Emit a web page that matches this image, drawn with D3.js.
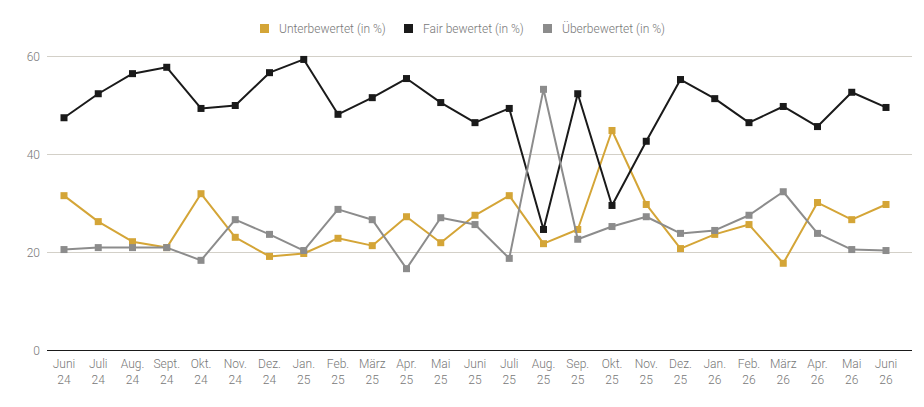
<!DOCTYPE html>
<html><head><meta charset="utf-8">
<script src="https://cdn.jsdelivr.net/npm/d3@7"></script>
<style>
body{margin:0;background:#fff;font-family:Roboto,"Noto Sans",sans-serif;}
</style></head>
<body><svg id="c" width="924" height="407"></svg>
<script>
const months = ["Juni","Juli","Aug.","Sept.","Okt.","Nov.","Dez.","Jan.","Feb.","März","Apr.","Mai","Juni","Juli","Aug.","Sep.","Okt.","Nov.","Dez.","Jan.","Feb.","März","Apr.","Mai","Juni"];
const years = ["24","24","24","24","24","24","24","25","25","25","25","25","25","25","25","25","25","25","25","26","26","26","26","26","26"];
const unterbewertet = [31.6,26.3,22.2,21.0,32.0,23.1,19.2,19.8,22.9,21.4,27.3,22.0,27.6,31.6,21.8,24.7,44.9,29.8,20.8,23.7,25.7,17.8,30.2,26.7,29.8];
const fair = [47.5,52.4,56.5,57.8,49.4,50.0,56.7,59.4,48.2,51.6,55.5,50.6,46.5,49.4,24.7,52.4,29.6,42.7,55.3,51.4,46.5,49.8,45.7,52.7,49.6];
const ueberbewertet = [20.6,21.0,21.0,21.0,18.4,26.7,23.7,20.4,28.8,26.7,16.7,27.1,25.7,18.8,53.3,22.7,25.3,27.3,23.9,24.5,27.6,32.4,23.9,20.6,20.4];
const yTicks = [0,20,40,60];
const seriesNames = ["Unterbewertet (in %)","Fair bewertet (in %)","Überbewertet (in %)"];
const seriesColors = ["#d4a537","#1a1a1a","#8c8c8c"];

const series = [unterbewertet, fair, ueberbewertet];
const svg = d3.select("#c");
const plotRight = 912, plotTop = 56.5, plotBottom = 350.5;
const idx = d3.range(months.length);
const x = d3.scalePoint().domain(idx).range([64, 886]);
const y = d3.scaleLinear().domain([0,60]).range([plotBottom, plotTop]);

// grid
svg.append("g").selectAll("line").data(yTicks.filter(d=>d>0)).join("line")
  .attr("x1", 47).attr("x2", plotRight).attr("y1", d=>y(d)).attr("y2", d=>y(d))
  .attr("stroke", "#d3d0c8").attr("stroke-width", 1);
svg.append("line").attr("x1",47).attr("x2",plotRight).attr("y1",y(0)).attr("y2",y(0))
  .attr("stroke","#1a1a1a").attr("stroke-width",1.2);

// y labels
svg.append("g").selectAll("text").data(yTicks).join("text")
  .attr("x", 40).attr("y", d=>y(d)+4).attr("text-anchor","end")
  .attr("font-size", 12).attr("font-weight", 300).attr("fill", "#777").text(d=>d);

// x labels
const xl = svg.append("g").selectAll("text").data(idx).join("text")
  .attr("text-anchor","middle").attr("font-size",12).attr("font-weight", 300).attr("fill","#777");
xl.append("tspan").attr("x", d=>x(d)).attr("y", 368).text(d=>months[d]);
xl.append("tspan").attr("x", d=>x(d)).attr("y", 384).text(d=>years[d]);

// lines
const line = d3.line().x((d,i)=>x(i)).y(d=>y(d));
series.forEach((s,k)=>{
  const g = svg.append("g");
  g.append("path").attr("d", line(s)).attr("fill","none")
    .attr("stroke", seriesColors[k]).attr("stroke-width", 2).attr("stroke-linejoin","round");
  g.selectAll("rect").data(s).join("rect")
    .attr("x", (d,i)=>x(i)-3.5).attr("y", d=>y(d)-3.5).attr("width",7).attr("height",7)
    .attr("fill", seriesColors[k]);
});

// legend
const legX = [260, 404, 543];
const lg = svg.append("g");
seriesNames.forEach((n,k)=>{
  lg.append("rect").attr("x", legX[k]).attr("y", 24).attr("width",9).attr("height",9).attr("fill", seriesColors[k]);
  lg.append("text").attr("x", legX[k]+19).attr("y", 33).attr("font-size",12).attr("font-weight", 300).attr("fill","#777").text(n);
});
</script></body></html>
